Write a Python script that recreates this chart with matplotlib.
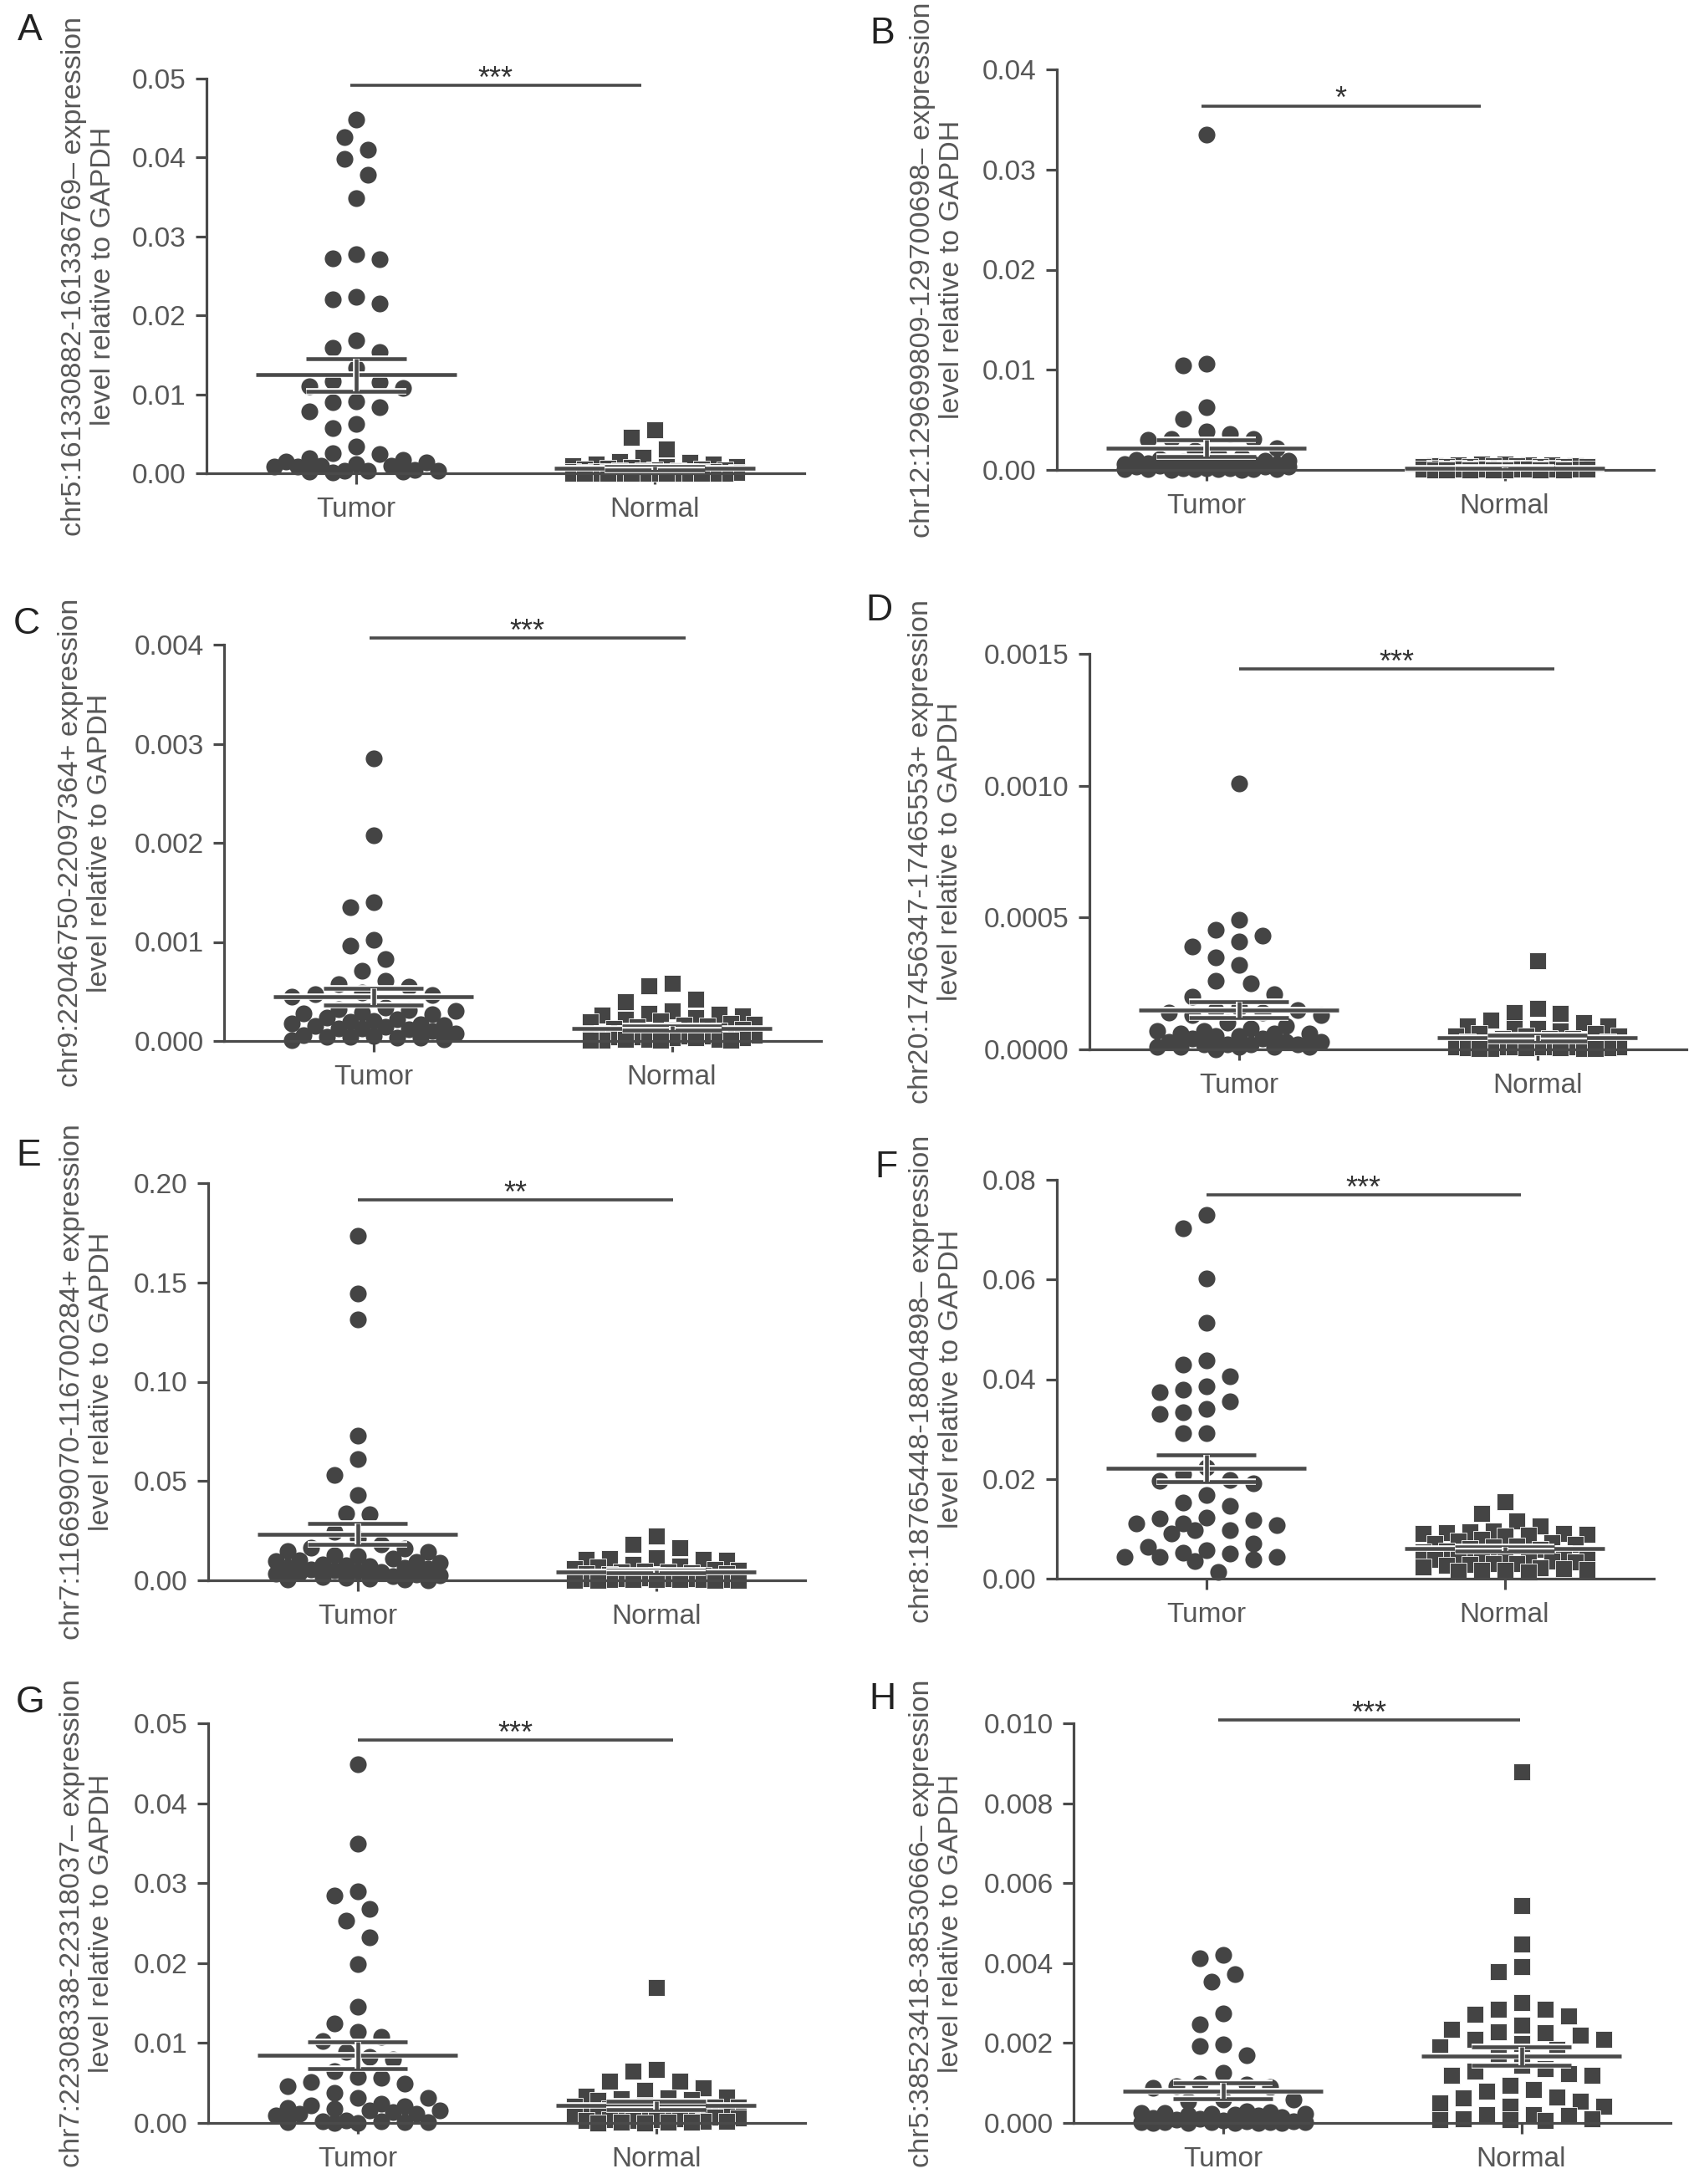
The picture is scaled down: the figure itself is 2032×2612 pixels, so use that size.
import numpy as np
import matplotlib
matplotlib.use('Agg')
import matplotlib.pyplot as plt
import matplotlib.patheffects as pe
from matplotlib.ticker import FixedLocator, FormatStrFormatter

plt.rcParams['font.family'] = ['Liberation Sans', 'DejaVu Sans']

# ---------------- data ----------------
groups = ['Tumor', 'Normal']
letters = ['A', 'B', 'C', 'D', 'E', 'F', 'G', 'H']
ylabels = [
    'chr5:161330882-161336769\u2013 expression\nlevel relative to GAPDH',
    'chr12:129699809-129700698\u2013 expression\nlevel relative to GAPDH',
    'chr9:22046750-22097364+ expression\nlevel relative to GAPDH',
    'chr20:17456347-17465553+ expression\nlevel relative to GAPDH',
    'chr7:116699070-116700284+ expression\nlevel relative to GAPDH',
    'chr8:18765448-18804898\u2013 expression\nlevel relative to GAPDH',
    'chr7:22308338-22318037\u2013 expression\nlevel relative to GAPDH',
    'chr5:38523418-38530666\u2013 expression\nlevel relative to GAPDH',
]
yticks_A = [0.00, 0.01, 0.02, 0.03, 0.04, 0.05]
yticks_B = [0.00, 0.01, 0.02, 0.03, 0.04]
yticks_C = [0.000, 0.001, 0.002, 0.003, 0.004]
yticks_D = [0.0000, 0.0005, 0.0010, 0.0015]
yticks_E = [0.00, 0.05, 0.10, 0.15, 0.20]
yticks_F = [0.00, 0.02, 0.04, 0.06, 0.08]
yticks_G = [0.00, 0.01, 0.02, 0.03, 0.04, 0.05]
yticks_H = [0.000, 0.002, 0.004, 0.006, 0.008, 0.010]
yticks_all = [yticks_A, yticks_B, yticks_C, yticks_D, yticks_E, yticks_F, yticks_G, yticks_H]
tick_formats = ['%.2f', '%.2f', '%.3f', '%.4f', '%.2f', '%.2f', '%.2f', '%.3f']

tumor_A = [0.0448, 0.0426, 0.0410, 0.0398, 0.0378, 0.0349, 0.0278, 0.0272, 0.0271, 0.0220,
           0.0215, 0.0223, 0.0168, 0.0154, 0.0159, 0.0133, 0.0117, 0.0108, 0.0110, 0.0115,
           0.0091, 0.0084, 0.0090, 0.0078, 0.0057, 0.0063, 0.0034, 0.0024, 0.0025, 0.0017,
           0.0014, 0.0019, 0.0015, 0.0012, 0.0010, 0.0009, 0.0010, 0.0008, 0.0003, 0.0002,
           0.0003, 0.0001, 0.0003, 0.0002, 0.0004]
normal_A = [0.0055, 0.0046, 0.0031, 0.0020, 0.0015, 0.0014, 0.0012, 0.0012, 0.0010, 0.0009,
            0.0008, 0.0007, 0.0006, 0.0005, 0.0005, 0.0004, 0.0004, 0.0003, 0.0003, 0.0003,
            0.0002, 0.0002, 0.0002, 0.0002, 0.0001, 0.0001, 0.0001, 0.0001, 0.0001, 0.0001,
            0.00005, 0.00005, 0.00005, 0.00005, 0.00005, 0.00003, 0.00003, 0.00003, 0.00002,
            0.00002, 0.00002, 0.00001, 0.00001, 0.00001]
tumor_B = [0.0335, 0.0106, 0.0104, 0.0063, 0.0051, 0.0038, 0.0036, 0.0031, 0.0031, 0.0030,
           0.0022, 0.0019, 0.0016, 0.0013, 0.0011, 0.0010, 0.0009, 0.0008, 0.0007, 0.0006,
           0.0006, 0.0005, 0.0009, 0.0008, 0.0007, 0.0006, 0.0005, 0.0005, 0.0004, 0.0004,
           0.0003, 0.0003, 0.0003, 0.0002, 0.0002, 0.0002, 0.0001, 0.0001, 0.0001, 0.0001,
           0.00005, 0.00005, 0.00003, 0.00002]
normal_B = [0.0006, 0.0006, 0.0005, 0.0005, 0.0005, 0.0004, 0.0004, 0.0004, 0.0004, 0.0003,
            0.0003, 0.0003, 0.0003, 0.0003, 0.0003, 0.0002, 0.0002, 0.0002, 0.0002, 0.0002,
            0.0002, 0.0002, 0.0002, 0.0001, 0.0001, 0.0001, 0.0001, 0.0001, 0.0001, 0.0001,
            0.0001, 0.0001, 0.00008, 0.00007, 0.00006, 0.00005, 0.00005, 0.00004, 0.00003,
            0.00003, 0.00002, 0.00002, 0.00001, 0.00001]
tumor_C = [0.00285, 0.00208, 0.00140, 0.00135, 0.00102, 0.00096, 0.00083, 0.00071, 0.00061,
           0.00057, 0.00055, 0.00049, 0.00047, 0.00046, 0.00045, 0.00034, 0.00032, 0.00031,
           0.00030, 0.00029, 0.00028, 0.00027, 0.00024, 0.00022, 0.00020, 0.00019, 0.00018,
           0.00017, 0.00016, 0.00015, 0.00014, 0.00013, 0.00013, 0.00012, 0.00010, 0.00008,
           0.00006, 0.00005, 0.00004, 0.00004, 0.00003, 0.00003, 0.00002, 0.00001]
normal_C = [0.00058, 0.00056, 0.00042, 0.00040, 0.00030, 0.00028, 0.00027, 0.00026, 0.00025,
            0.00024, 0.00022, 0.00020, 0.00019, 0.00018, 0.00017, 0.00016, 0.00015, 0.00014,
            0.00013, 0.00012, 0.00011, 0.00010, 0.00010, 0.00009, 0.00008, 0.00008, 0.00007,
            0.00007, 0.00006, 0.00006, 0.00005, 0.00005, 0.00004, 0.00004, 0.00003, 0.00003,
            0.00003, 0.00002, 0.00002, 0.00002, 0.00001, 0.00001, 0.00001, 0.00001]
tumor_D = [0.00101, 0.00049, 0.000455, 0.00043, 0.00041, 0.00039, 0.00035, 0.00032, 0.00026,
           0.00025, 0.00021, 0.00020, 0.00016, 0.00015, 0.00015, 0.00014, 0.00014, 0.00013,
           0.00013, 0.00010, 0.00009, 0.00008, 0.00007, 0.00007, 0.00006, 0.00006, 0.00006,
           0.00005, 0.00005, 0.00004, 0.00004, 0.00003, 0.00003, 0.00003, 0.00002, 0.00002,
           0.00002, 0.00002, 0.00001, 0.00001, 0.00001, 0.00001, 0.00001, 0.00000]
normal_D = [0.000336, 0.000155, 0.000140, 0.000135, 0.00011, 0.00010, 0.00009, 0.00009,
            0.00008, 0.00008, 0.00007, 0.00006, 0.00006, 0.00005, 0.00005, 0.00005, 0.00004,
            0.00004, 0.00004, 0.00003, 0.00003, 0.00003, 0.00003, 0.00002, 0.00002, 0.00002,
            0.00002, 0.00002, 0.00002, 0.00001, 0.00001, 0.00001, 0.00001, 0.00001, 0.00001,
            0.00001, 0.000005, 0.000005, 0.000005, 0.000005, 0.000003, 0.000003, 0.000002,
            0.000002]
tumor_E = [0.1733, 0.1446, 0.1313, 0.0730, 0.0611, 0.0529, 0.0431, 0.0337, 0.0332, 0.0245,
           0.0210, 0.0183, 0.0166, 0.0162, 0.0149, 0.0143, 0.0128, 0.0124, 0.0109, 0.0103,
           0.0097, 0.0091, 0.0088, 0.0081, 0.0077, 0.0072, 0.0066, 0.0063, 0.0058, 0.0054,
           0.0049, 0.0046, 0.0041, 0.0037, 0.0033, 0.0029, 0.0026, 0.0021, 0.0016, 0.0013,
           0.0009, 0.0006, 0.0003, 0.0001]
normal_E = [0.0222, 0.0183, 0.0166, 0.0112, 0.0109, 0.0107, 0.0105, 0.0101, 0.0078, 0.0072,
            0.0066, 0.0061, 0.0055, 0.0052, 0.0048, 0.0044, 0.0041, 0.0038, 0.0035, 0.0032,
            0.0029, 0.0027, 0.0024, 0.0022, 0.0020, 0.0018, 0.0016, 0.0014, 0.0013, 0.0011,
            0.0010, 0.0009, 0.0008, 0.0007, 0.0006, 0.0005, 0.0004, 0.0004, 0.0003, 0.0003,
            0.0002, 0.0002, 0.0001, 0.0001]
tumor_F = [0.0729, 0.0703, 0.0602, 0.0513, 0.0437, 0.0429, 0.0406, 0.0386, 0.0379, 0.0374,
           0.0355, 0.0341, 0.0334, 0.0330, 0.0292, 0.0291, 0.0223, 0.0209, 0.0198, 0.0196,
           0.0191, 0.0167, 0.0152, 0.0146, 0.0122, 0.0120, 0.0117, 0.0110, 0.0110, 0.0108,
           0.0097, 0.0097, 0.0090, 0.0070, 0.0063, 0.0057, 0.0052, 0.0050, 0.0043, 0.0043,
           0.0043, 0.0038, 0.0035, 0.0014]
normal_F = [0.0155, 0.0130, 0.0115, 0.0105, 0.0095, 0.0094, 0.0092, 0.0091, 0.0090, 0.0089,
            0.0088, 0.0086, 0.0078, 0.0075, 0.0072, 0.0070, 0.0068, 0.0066, 0.0063, 0.0060,
            0.0058, 0.0055, 0.0053, 0.0051, 0.0049, 0.0047, 0.0045, 0.0043, 0.0040, 0.0038,
            0.0035, 0.0033, 0.0031, 0.0030, 0.0028, 0.0026, 0.0024, 0.0022, 0.0020, 0.0018,
            0.0017, 0.0016, 0.0015, 0.0014]
tumor_G = [0.0449, 0.0349, 0.0290, 0.0284, 0.0268, 0.0253, 0.0232, 0.0199, 0.0145, 0.0125,
           0.0114, 0.0108, 0.0102, 0.0089, 0.0083, 0.0079, 0.0065, 0.0058, 0.0056, 0.0051,
           0.0049, 0.0046, 0.0038, 0.0031, 0.0031, 0.0024, 0.0022, 0.0021, 0.0019, 0.0018,
           0.0016, 0.0016, 0.0014, 0.0012, 0.0011, 0.0009, 0.0003, 0.0002, 0.0002, 0.0001,
           0.0001, 0.0001, 0.0000, 0.0000]
normal_G = [0.0169, 0.0067, 0.0065, 0.0052, 0.0052, 0.0044, 0.0041, 0.0033, 0.0032, 0.0031,
            0.0030, 0.0029, 0.0028, 0.0022, 0.0021, 0.0020, 0.0020, 0.0019, 0.0018, 0.0017,
            0.0015, 0.0013, 0.0012, 0.0011, 0.0010, 0.0010, 0.0009, 0.0009, 0.0008, 0.0008,
            0.0007, 0.0006, 0.0005, 0.0004, 0.0004, 0.0003, 0.0003, 0.0002, 0.0002, 0.0001,
            0.0001, 0.0001, 0.0000, 0.0000]
tumor_H = [0.00421, 0.00412, 0.00373, 0.00353, 0.00275, 0.00247, 0.00197, 0.00193, 0.00169,
           0.00125, 0.00099, 0.00097, 0.00092, 0.00090, 0.00088, 0.00058, 0.00058, 0.00055,
           0.00030, 0.00028, 0.00026, 0.00025, 0.00023, 0.00022, 0.00021, 0.00020, 0.00018,
           0.00015, 0.00012, 0.00010, 0.00008, 0.00006, 0.00005, 0.00004, 0.00003, 0.00003,
           0.00002, 0.00002, 0.00002, 0.00001, 0.00001, 0.00001, 0.00001, 0.00000]
normal_H = [0.00878, 0.00544, 0.00447, 0.00392, 0.00379, 0.00301, 0.00284, 0.00284, 0.00271,
            0.00267, 0.00245, 0.00234, 0.00229, 0.00225, 0.00219, 0.00210, 0.00210, 0.00199,
            0.00190, 0.00184, 0.00167, 0.00145, 0.00136, 0.00130, 0.00123, 0.00119, 0.00119,
            0.00095, 0.00084, 0.00080, 0.00064, 0.00062, 0.00054, 0.00050, 0.00041, 0.00041,
            0.00020, 0.00020, 0.00018, 0.00010, 0.00010, 0.00009, 0.00008, 0.00006]

tumor_all = [tumor_A, tumor_B, tumor_C, tumor_D, tumor_E, tumor_F, tumor_G, tumor_H]
normal_all = [normal_A, normal_B, normal_C, normal_D, normal_E, normal_F, normal_G, normal_H]

# mean and SEM
mean_tumor = [0.01245, 0.00215, 0.000444, 0.000150, 0.0232, 0.0221, 0.00846, 0.00080]
sem_tumor = [0.00207, 0.00085, 0.000085, 0.000030, 0.0053, 0.0027, 0.0017, 0.00020]
mean_normal = [0.0006, 0.0002, 0.00013, 0.000043, 0.0044, 0.0060, 0.0022, 0.00167]
sem_normal = [0.0002, 0.00003, 0.00002, 0.00001, 0.0008, 0.0004, 0.0005, 0.00023]

stars = ['***', '*', '***', '***', '**', '***', '***', '***']
sig_y = [0.0491, 0.03636, 0.00407, 0.001442, 0.1916, 0.0770, 0.0479, 0.01009]

# ---------------- layout (pixels) ----------------
W, H = 2032, 2612
rects = [(247, 94, 962, 566), (1264, 83, 1978, 562),
         (268, 771, 982, 1245), (1303, 782, 2017, 1255),
         (249, 1415, 963, 1890), (1264, 1411, 1978, 1888),
         (249, 2061, 963, 2539), (1284, 2061, 1998, 2539)]
letter_pos = [(21, 37), (1040, 40), (16, 746), (1035, 731),
              (19, 1382), (1046, 1396), (19, 2037), (1039, 2033)]
ylabel_x = [106, 1121, 102, 1119, 104, 1120, 104, 1120]
sig_x = [(-0.02, 0.955), (-0.016, 0.92), (-0.013, 1.045), (0.0, 1.058),
         (0.0, 1.058), (0.0, 1.054), (0.0, 1.058), (-0.015, 0.995)]

mcol = '#444444'
lcol = '#4a4a4a'
tcol = '#575757'


def swarm(vals, ypx, xpx, step=14.0, dmin=25.0, maxw=98.0):
    vals = np.asarray(vals, dtype=float)
    order = np.argsort(-vals, kind='stable')
    kmax = int(maxw // step)
    cands = [0]
    for k in range(1, kmax + 1):
        cands += [-k, k]
    px, py = [], []
    off = np.zeros(len(vals))
    for i in order:
        y = vals[i] * ypx
        chosen = None
        best_d, best_x = -1.0, 0.0
        for k in cands:
            x = k * step
            if px:
                d = np.min(np.hypot(np.array(px) - x, np.array(py) - y))
            else:
                d = np.inf
            if d >= dmin:
                chosen = x
                break
            if d > best_d + 1e-9:
                best_d, best_x = d, x
        if chosen is None:
            chosen = best_x
        px.append(chosen)
        py.append(y)
        off[i] = chosen / xpx
    return off


fig = plt.figure(figsize=(W / 100, H / 100), dpi=100)

for p in range(8):
    l, t, r, b = rects[p]
    ax = fig.add_axes([l / W, 1 - b / H, (r - l) / W, (b - t) / H])
    yt = yticks_all[p]
    ymax = yt[-1]
    ax.set_xlim(-0.5, 1.5)
    ax.set_ylim(0, ymax)
    for s in ['top', 'right']:
        ax.spines[s].set_visible(False)
    for s in ['left', 'bottom']:
        ax.spines[s].set_linewidth(2.3)
        ax.spines[s].set_color(lcol)
    ax.spines['left'].set_bounds(0, ymax)
    ax.yaxis.set_major_locator(FixedLocator(yt))
    ax.yaxis.set_major_formatter(FormatStrFormatter(tick_formats[p]))
    ax.set_xticks([0, 1])
    ax.set_xticklabels(groups)
    ax.tick_params(direction='out', length=9.5, width=2.3, color=lcol,
                   labelsize=24, labelcolor=tcol, pad=8)
    ax.tick_params(axis='x', pad=11)
    ax.patch.set_visible(False)

    xpx = (r - l) / 2.0
    ypx = (b - t) / ymax
    for g, (vals, marker) in enumerate([(tumor_all[p], 'o'), (normal_all[p], 's')]):
        offs = swarm(vals, ypx, xpx)
        ax.plot(g + offs, vals, linestyle='none', marker=marker, ms=14.5,
                color=mcol, mec=mcol if marker == 'o' else 'white',
                mew=0.0 if marker == 'o' else 0.6, clip_on=False, zorder=2)

    eff = [pe.Stroke(linewidth=5.5, foreground='white'), pe.Normal()]
    for g, (m, se) in enumerate([(mean_tumor[p], sem_tumor[p]),
                                 (mean_normal[p], sem_normal[p])]):
        kw = dict(color=lcol, lw=3.3, solid_capstyle='butt', zorder=4,
                  clip_on=False, path_effects=eff)
        ax.plot([g - 0.335, g + 0.335], [m, m], **kw)
        ax.plot([g - 0.168, g + 0.168], [m + se, m + se], **kw)
        ax.plot([g - 0.168, g + 0.168], [m - se, m - se], **kw)
        ax.plot([g, g], [m - se, m + se], **kw)

    x0, x1 = sig_x[p]
    ax.plot([x0, x1], [sig_y[p], sig_y[p]], color=lcol, lw=2.6,
            solid_capstyle='butt', clip_on=False, zorder=3)
    ax.annotate(stars[p], xy=((x0 + x1) / 2, sig_y[p]), xytext=(0, -2),
                textcoords='offset points', ha='center', va='baseline',
                fontsize=26, color='#333333', annotation_clip=False)

    fig.text(ylabel_x[p] / W, 1 - (t + b) / 2 / H, ylabels[p], rotation=90,
             ha='center', va='center', fontsize=24.5, color=tcol,
             linespacing=1.2, multialignment='center')
    lx, ly = letter_pos[p]
    fig.text(lx / W, 1 - ly / H, letters[p], ha='left', va='center',
             fontsize=32, color='#222222')

fig.savefig('out.png', dpi=100)
